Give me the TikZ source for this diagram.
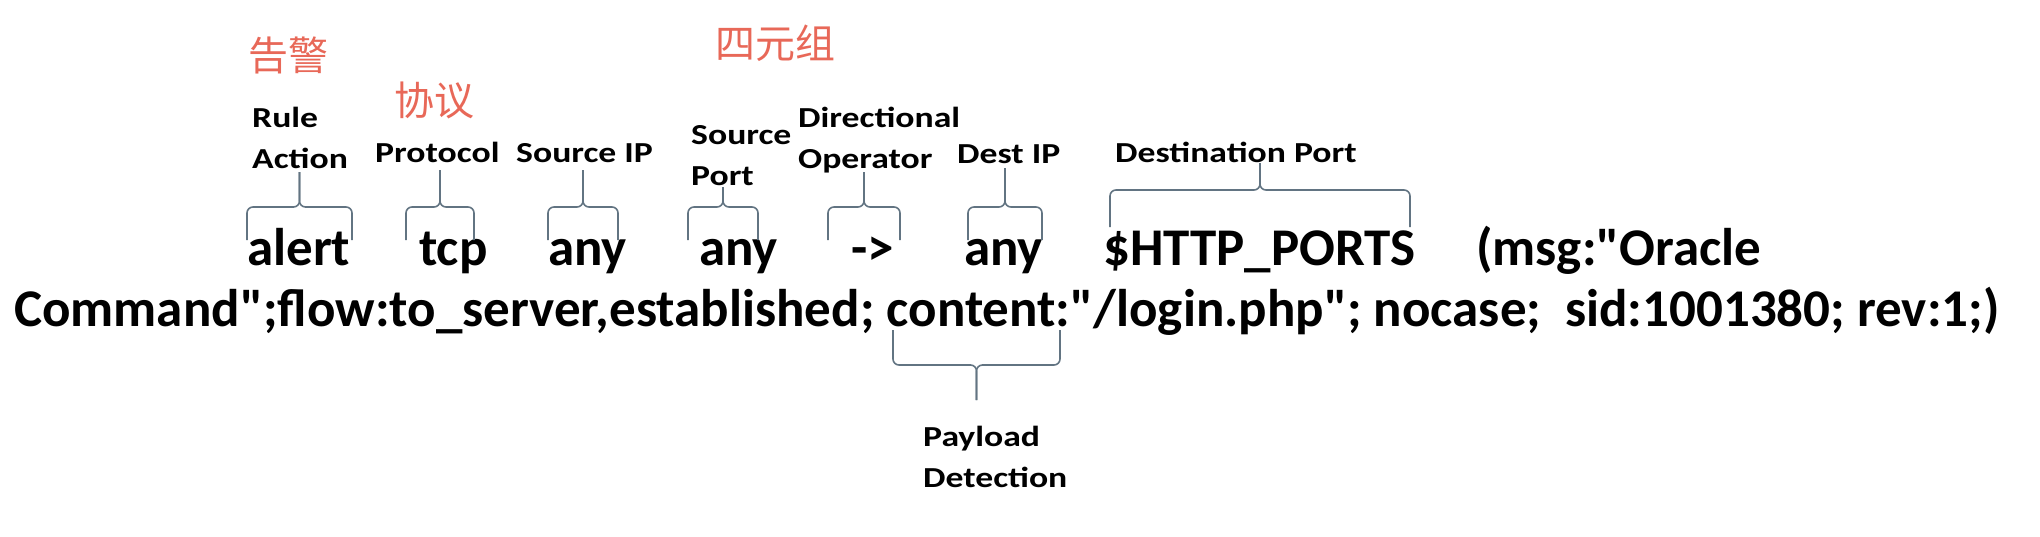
\documentclass[tikz,border=0pt]{standalone}
\usepackage{fontspec}
\setmainfont{Carlito}[Ligatures=TeXOff]
\newfontfamily\lblfont[FakeStretch=1.23]{Carlito}
\newfontfamily\cjk{Noto Sans CJK SC}
\usetikzlibrary{positioning}

\definecolor{zhred}{RGB}{232,104,88}
\definecolor{bracegray}{RGB}{98,116,130}

% brace: left x, right x, end y, bar y, tip y
\newcommand\tagbrace[5]{%
  \draw[brace] (#1,#3) -- (#1,#4) -- ({(#1+#2)/2},#4) -- ({(#1+#2)/2},#5);
  \draw[brace] (#2,#3) -- (#2,#4) -- ({(#1+#2)/2},#4) -- ({(#1+#2)/2},#5);}

\begin{document}
\begin{tikzpicture}[
  x=1pt, y=-1pt,
  rule/.style={font=\bfseries\fontsize{53}{62}\selectfont, anchor=base west, inner sep=0pt},
  tag/.style={font=\lblfont\bfseries\fontsize{29}{41}\selectfont, anchor=base west, inner sep=0pt, align=left},
  zh/.style={font=\cjk\fontsize{40}{44}\selectfont, text=zhred, inner sep=0pt},
  brace/.style={draw=bracegray, line width=1.6pt, rounded corners=6pt}
]
\useasboundingbox[fill=white] (0,0) rectangle (2040,536);
% chinese notes
\node[zh] (zhalert) at (288,55) {告警};
\node[zh] (zhproto) at (434,100) {协议};
\node[zh] (zhfour) at (775,43) {四元组};
% labels (base = last line)
\node[tag] (lact) at (252,168) {Rule\\Action};
\node[tag] (lproto) at (375,162) {Protocol};
\node[tag] (lsip) at (516,162) {Source IP};
\node[tag] (lsport) at (691,185) {Source\\Port};
\node[tag] (ldir) at (798,168) {Directional\\Operator};
\node[tag] (ldip) at (957,163) {Dest IP};
\node[tag] (ldport) at (1115,162) {Destination Port};
\node[tag] (lpay) at (923,487) {Payload\\Detection};
% the rule
\node[rule] (action) at (247,265) {alert};
\node[rule] (proto) at (419,265) {tcp};
\node[rule] (sip) at (548,265) {any};
\node[rule] (sport) at (699,265) {any};
\node[rule] (dir) at (851,265) {->};
\node[rule] (dip) at (964,265) {any};
\node[rule] (dport) at (1103,265) {\$HTTP\_PORTS};
\node[rule] (opts) at (1476,265) {(msg:"Oracle};
\node[rule] (optsb) at (14,326) {Command";flow:to\_server,established; content:"/login.php"; nocase;\ \ sid:1001380; rev:1;)};
% braces
\tagbrace{247}{352}{240}{207}{172}
\tagbrace{406}{474}{240}{207}{170}
\tagbrace{548}{618}{240}{207}{170}
\tagbrace{688}{758}{240}{207}{187}
\tagbrace{828}{900}{240}{207}{172}
\tagbrace{968}{1042}{240}{207}{168}
\tagbrace{1110}{1410}{227}{190}{163}
\tagbrace{893}{1060}{330}{365}{400}
\end{tikzpicture}
\end{document}
